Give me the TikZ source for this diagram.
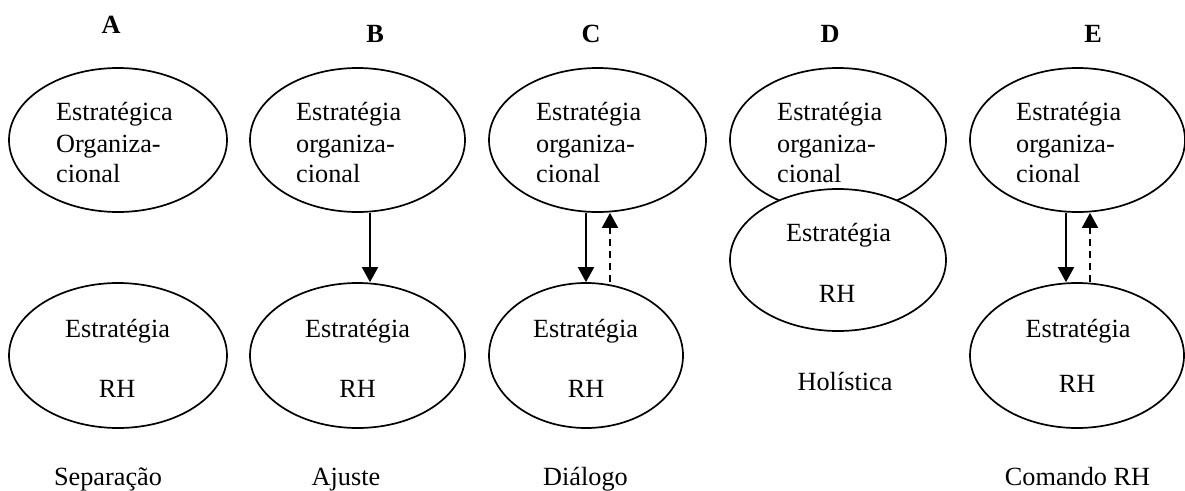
\documentclass[tikz,border=0pt]{standalone}
\usepackage{fontspec}
\setmainfont{Liberation Serif}
\usetikzlibrary{shapes.geometric,arrows.meta}
\newcommand{\bodyfont}{\fontsize{26.25pt}{31pt}\selectfont}
\tikzset{
  ell/.style={draw, ellipse, line width=1.7pt, inner sep=0pt, fill=white},
  ln/.style={anchor=base west, inner sep=0pt, font=\bodyfont},
  lc/.style={anchor=base, inner sep=0pt, font=\bodyfont},
  hd/.style={anchor=base, inner sep=0pt, font=\bodyfont\bfseries},
  arr/.style={line width=1.7pt, -{Triangle[width=16pt,length=15pt]}},
  darr/.style={arr, dash pattern=on 7pt off 5pt},
}
\begin{document}
\begin{tikzpicture}[x=1pt,y=-1pt]
\useasboundingbox (0,0) rectangle (1185,490);

% column headings
\node[hd] (hA) at (111,33) {A};
\node[hd] (hB) at (375,42) {B};
\node[hd] (hC) at (591,42) {C};
\node[hd] (hD) at (830,42) {D};
\node[hd] (hE) at (1093,42) {E};

% A: separation
\node[ell, minimum width=218pt, minimum height=144pt] (At) at (118,140) {};
\node[ell, minimum width=218pt, minimum height=145pt] (Ab) at (118,355.5) {};
\node[ln] (At1) at (56,120) {Estratégica};
\node[ln] (At2) at (56,152) {Organiza-};
\node[ln] (At3) at (56,182) {cional};
\node[lc] (Ab1) at (117.5,337) {Estratégia};
\node[lc] (Ab2) at (117,397) {RH};
\node[lc] (lA) at (108,485) {Separação};

% B: fit
\node[ell, minimum width=215pt, minimum height=144pt] (Bt) at (357.5,140) {};
\node[ell, minimum width=215pt, minimum height=145pt] (Bb) at (357.5,355.5) {};
\node[ln] (Bt1) at (296,120) {Estratégia};
\node[ln] (Bt2) at (296,152) {organiza-};
\node[ln] (Bt3) at (296,182) {cional};
\node[lc] (Bb1) at (357.5,337) {Estratégia};
\node[lc] (Bb2) at (357.5,397) {RH};
\node[lc] (lB) at (346,485) {Ajuste};
\draw[arr] ([xshift=12.5pt]Bt.south) -- ([xshift=12.5pt]Bb.north);

% C: dialogue
\node[ell, minimum width=217pt, minimum height=144pt] (Ct) at (597.5,140) {};
\node[ell, minimum width=194pt, minimum height=145pt] (Cb) at (586,355.5) {};
\node[ln] (Ct1) at (536,120) {Estratégia};
\node[ln] (Ct2) at (536,152) {organiza-};
\node[ln] (Ct3) at (536,182) {cional};
\node[lc] (Cb1) at (585.5,337) {Estratégia};
\node[lc] (Cb2) at (586,397) {RH};
\node[lc] (lC) at (585.5,485) {Diálogo};
\draw[arr] ([xshift=-11.5pt]Ct.south) -- (Cb.north);
\draw[darr] ([xshift=24pt]Cb.north) -- ([xshift=12.5pt]Ct.south);

% D: holistic
\node[ell, minimum width=216pt, minimum height=144pt] (Dt) at (838,140) {};
\node[ln] (Dt1) at (777,120) {Estratégia};
\node[ln] (Dt2) at (777,152) {organiza-};
\node[ln] (Dt3) at (777,182) {cional};
\node[ell, minimum width=216pt, minimum height=142pt] (Db) at (838,260) {};
\node[lc] (Db1) at (838.5,241) {Estratégia};
\node[lc] (Db2) at (837,302) {RH};
\node[lc] (lD) at (845,390) {Holística};

% E: HR command
\node[ell, minimum width=215pt, minimum height=144pt] (Et) at (1077.5,140) {};
\node[ell, minimum width=214pt, minimum height=145pt] (Eb) at (1077,355.5) {};
\node[ln] (Et1) at (1016,120) {Estratégia};
\node[ln] (Et2) at (1016,152) {organiza-};
\node[ln] (Et3) at (1016,182) {cional};
\node[lc] (Eb1) at (1078,337) {Estratégia};
\node[lc] (Eb2) at (1077,392) {RH};
\node[lc] (lE) at (1077.5,485) {Comando RH};
\draw[arr] ([xshift=-11.5pt]Et.south) -- ([xshift=-11pt]Eb.north);
\draw[darr] ([xshift=13pt]Eb.north) -- ([xshift=12.5pt]Et.south);
\end{tikzpicture}
\end{document}
